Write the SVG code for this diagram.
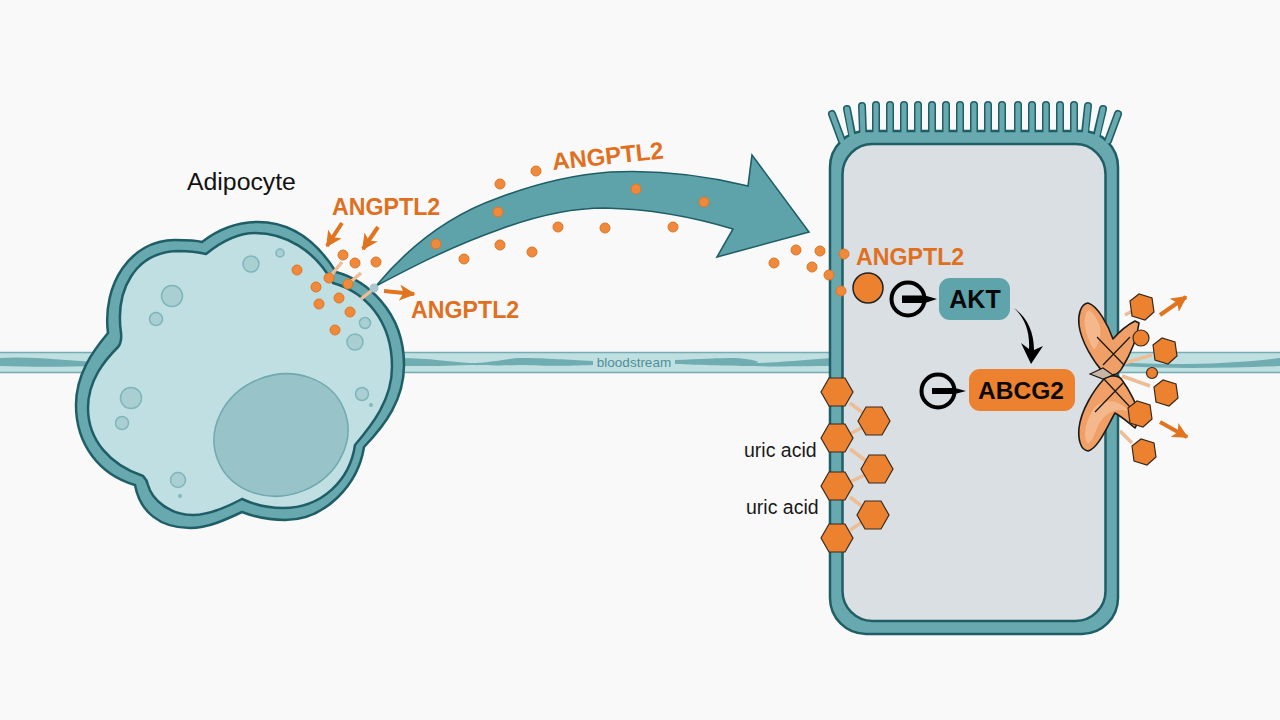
<svg xmlns="http://www.w3.org/2000/svg" width="1280" height="720" viewBox="0 0 1280 720">
<style>
  .sans { font-family: "Liberation Sans", Arial, sans-serif; }
  .lbl { font-family: "Liberation Sans", Arial, sans-serif; font-weight: 700; font-size: 23.200px; fill: #e0701f; }
  .uric { font-family: "Liberation Sans", Arial, sans-serif; font-size: 19.500px; fill: #1a1a1a; }
  .tag { font-family: "Liberation Sans", Arial, sans-serif; font-weight: 700; fill: #0a0a0a; text-anchor: middle; }
  .mem { fill: #68a9af; stroke: #1f5e66; stroke-width: 2.500; }
  .ves { fill: #a9cfd3; stroke: #7fb6bb; stroke-width: 1.500; }
  .dot { fill: #f08a3a; stroke: #d8772c; stroke-width: 1; }
  .hex { fill: #ec8130; stroke: #3a2a1c; stroke-width: 1.200; }
  .link { stroke: #eebd96; stroke-width: 3.500; fill: none; }
  .arr { stroke: #e0741f; stroke-width: 4; fill: none; marker-end: url(#oh); }
  .tr { fill: #f0a066; stroke: #1f1a16; stroke-width: 1.600; stroke-linejoin: round; }
  .trh { fill: #f5b88c; }
  .x { stroke: #1f1a16; stroke-width: 1.300; fill: none; }
  .wave { fill: #6fadb2; }
</style>
<defs>
  <marker id="oh" viewBox="0 0 10 10" refX="9" refY="5" markerWidth="16" markerHeight="16" markerUnits="userSpaceOnUse" orient="auto">
    <path d="M0 0 L10 5 L0 10 L2.500 5 Z" fill="#e0741f"/>
  </marker>
  <polygon id="hf" points="-16,0 -8,-14 8,-14 16,0 8,14 -8,14"/>
  <polygon id="hp" points="-12,-6 -3,-13 10,-9 12,5 3,13 -10,9"/>
</defs>
<rect width="1280" height="720" fill="#f9f9f9"/>

<!-- plasma stream running behind both cells -->
<g id="bloodstream">
  <rect x="0" y="352.500" width="1280" height="20" fill="#bfdfe1"/>
  <path d="M0 352.500H1280M0 372.500H1280" stroke="#76adb2" stroke-width="1.500"/>
  <path class="wave" d="M0 358 C30 356 60 360 100 362 L100 366 C60 367 30 367 0 366 Z"/>
  <path class="wave" d="M400 358 C430 358 450 362 470 363 C490 363 510 358 520 358 C550 358 565 360 593 361 L593 365 C565 366 550 366 520 365 C500 366 480 365 470 365 C450 366 430 366 400 366 Z"/>
  <path class="wave" d="M675 360 C700 359 720 358 735 358 C750 359 765 362 755 363 C775 363 800 360 832 358 L832 366 C800 366 775 367 755 366 C735 366 700 365 675 364 Z"/>
  <path class="wave" d="M1118 362 C1170 366 1230 364 1280 358 L1280 366 C1230 368 1170 369 1118 366 Z"/>
  <text x="634" y="367" class="sans" font-size="13.500" fill="#4f8f96" text-anchor="middle">bloodstream</text>
</g>

<g id="adipocyte">
  <path class="mem" d="M202 242 C220 228 240 222 258 222 C290 222 316 240 336 272 C365 280 404 310 404 365 C404 400 385 425 364 447 C358 485 325 520 285 520 C270 520 255 517 242 512 C225 520 208 528 190 528 C160 528 140 512 135 485 C100 475 76 445 76 405 C76 375 92 352 108 333 C102 285 130 240 175 240 C185 240 195 240 202 242 Z"/>
  <path d="M206 254 C222 241 238 233 255 233 C285 233 315 250 333 283 C365 292 392 320 392 367 C392 400 372 425 355 445 C350 480 322 508 283 508 C268 508 255 505 242 499 C225 508 208 515 193 515 C170 515 152 500 148 485 Q147 480 143 476 C110 465 88 440 88 408 C88 380 105 360 118 347 Q122 342 121 333 C115 290 135 252 178 251 C190 251 198 252 206 254 Z" fill="#bfdfe2" stroke="#1f5e66" stroke-width="2.500"/>
  <ellipse cx="281" cy="435" rx="68" ry="60" transform="rotate(-22 281 435)" fill="#97c3c9" stroke="#6fa9ae" stroke-width="1.500"/>
  <circle class="ves" cx="280" cy="253" r="4"/>
  <circle class="ves" cx="251" cy="264" r="8"/>
  <circle class="ves" cx="172" cy="296" r="10.500"/>
  <circle class="ves" cx="156" cy="319" r="6.500"/>
  <circle class="ves" cx="365" cy="323" r="5.500"/>
  <circle class="ves" cx="355" cy="342" r="8"/>
  <circle class="ves" cx="362" cy="394" r="6.500"/>
  <circle class="ves" cx="371" cy="405" r="1.200"/>
  <circle class="ves" cx="131" cy="398" r="10.500"/>
  <circle class="ves" cx="122" cy="423" r="6.500"/>
  <circle class="ves" cx="178" cy="480" r="7.500"/>
  <circle class="ves" cx="180" cy="496" r="1.200"/>
  <text x="187" y="190" class="sans" font-size="24.800" fill="#111">Adipocyte</text>
</g>

<!-- large secretion arrow and the small flow arrows -->
<g id="connectors">
  <path d="M376 286 C410 245 450 215 498 198 C535 184 570 175 610 172 C650 170 700 174 748 186 L752 155 L809 232 L717 257 L733 229 C690 216 650 209 605 208 C570 208 530 218 498 230 C450 247 410 268 376 286 Z" fill="#5fa3aa" stroke="#1f5e66" stroke-width="1.600" stroke-linejoin="miter"/>
  <path class="link" d="M329 278L342 262M348 284L361 273M361 299L371 291" stroke-width="2.500"/>
  <path class="arr" d="M342 223L327 246"/>
  <path class="arr" d="M378 227L363 249"/>
  <path class="arr" d="M384 291L414 294"/>
  <path class="arr" d="M1160 315L1186 297"/>
  <path class="arr" d="M1160 422L1187 437"/>
</g>

<g id="cell">
  <path d="M832 114L842 141M847 109L852 134M862 106L863 133M876 105V134M890 105V134M904 105V134M918 105V134M932 105V134M946 105V134M960 105V134M974 105V134M988 105V134M1002 105V134M1018 105V134M1032 105V134M1046 105V134M1060 105V134M1074 105V134M1088 106L1085 133M1103 109L1097 134M1118 114L1108 141" stroke="#1f5e66" stroke-width="8" stroke-linecap="round" fill="none"/>
  <rect class="mem" x="830" y="131" width="288" height="503" rx="36"/>
  <path d="M832 114L842 141M847 109L852 136M862 106L863 136M876 105V136M890 105V136M904 105V136M918 105V136M932 105V136M946 105V136M960 105V136M974 105V136M988 105V136M1002 105V136M1018 105V136M1032 105V136M1046 105V136M1060 105V136M1074 105V136M1088 106L1085 136M1103 109L1097 136M1118 114L1108 141" stroke="#68a9af" stroke-width="5" stroke-linecap="round" fill="none"/>
  <rect x="842.500" y="144" width="263" height="477" rx="30" fill="#d9dfe2" stroke="#1f5e66" stroke-width="2.500"/>
</g>

<g id="angptl2-dots">
  <circle class="dot" cx="500" cy="184" r="5"/><circle class="dot" cx="536" cy="171" r="5"/>
  <circle class="dot" cx="636" cy="189" r="5"/><circle class="dot" cx="704" cy="202" r="5"/>
  <circle class="dot" cx="498" cy="212" r="5"/><circle class="dot" cx="436" cy="244" r="5"/>
  <circle class="dot" cx="500" cy="245" r="5"/><circle class="dot" cx="464" cy="259" r="5"/>
  <circle class="dot" cx="532" cy="252" r="5"/><circle class="dot" cx="558" cy="227" r="5"/>
  <circle class="dot" cx="605" cy="228" r="5"/><circle class="dot" cx="673" cy="227" r="5"/>
  <circle class="dot" cx="774" cy="263" r="5"/><circle class="dot" cx="796" cy="250" r="5"/>
  <circle class="dot" cx="820" cy="251" r="5"/><circle class="dot" cx="844" cy="254" r="5"/>
  <circle class="dot" cx="812" cy="267" r="5"/><circle class="dot" cx="829" cy="275" r="5"/>
  <circle class="dot" cx="841" cy="291" r="5"/>
  <circle class="dot" cx="343" cy="255" r="5"/><circle class="dot" cx="355" cy="263" r="5"/>
  <circle class="dot" cx="376" cy="262" r="5"/><circle class="dot" cx="297" cy="270" r="5"/>
  <circle class="dot" cx="329" cy="278" r="5"/><circle class="dot" cx="348" cy="284" r="5"/>
  <circle class="dot" cx="316" cy="287" r="5"/><circle class="dot" cx="339" cy="298" r="5"/>
  <circle class="dot" cx="319" cy="304" r="5"/><circle class="dot" cx="350" cy="312" r="5"/>
  <circle class="dot" cx="335" cy="330" r="5"/>
  <circle cx="374" cy="288" r="4.500" fill="#a9c7cc"/>
</g>

<text class="lbl" x="332" y="215">ANGPTL2</text>
<text class="lbl" x="411" y="318">ANGPTL2</text>
<text class="lbl" x="856" y="265">ANGPTL2</text>
<text class="lbl" transform="translate(553 170) rotate(-6)" style="font-size:24px">ANGPTL2</text>

<!-- urate exchanger chain on the basal membrane -->
<g id="uric-acid">
  <path class="link" d="M850 403L874 421L850 434M850 449L877 469L850 482M850 497L873 515L850 530"/>
  <use href="#hf" class="hex" x="837" y="392"/>
  <use href="#hf" class="hex" x="837" y="438"/>
  <use href="#hf" class="hex" x="837" y="486"/>
  <use href="#hf" class="hex" x="837" y="538"/>
  <use href="#hf" class="hex" x="874" y="421"/>
  <use href="#hf" class="hex" x="877" y="469"/>
  <use href="#hf" class="hex" x="873" y="515"/>
  <text class="uric" x="744" y="457">uric acid</text>
  <text class="uric" x="746" y="514">uric acid</text>
</g>

<g id="receptor">
  <circle cx="868" cy="288" r="15" fill="#ec8130" stroke="#222" stroke-width="1.500"/>
</g>

<g id="akt">
  <circle cx="908" cy="299" r="16.500" fill="none" stroke="#000" stroke-width="4"/>
  <path d="M902 295.500L925 295.500L937 299L925 303L902 303Z" fill="#000"/>
  <rect x="939" y="278" width="71" height="42" rx="11" fill="#5fa3ab"/>
  <text class="tag" x="975" y="308" font-size="25">AKT</text>
</g>

<g id="abcg2">
  <circle cx="938" cy="391" r="16.500" fill="none" stroke="#000" stroke-width="4"/>
  <path d="M932 388L955 388L966 391L955 394L932 394Z" fill="#000"/>
  <rect x="969" y="369" width="106" height="42" rx="11" fill="#ec8130"/>
  <text class="tag" x="1021" y="399" font-size="24.500">ABCG2</text>
</g>

<path id="akt-to-abcg2" d="M1014 308 C1027 317 1034 332 1034 350 L1043 346 L1031 364 L1021 343 L1029 349 C1030 332 1025 318 1014 308 Z" fill="#000"/>

<g id="transporter">
  <path class="link" d="M1125 315L1136 309M1118 365L1152 355M1122 376L1150 386M1120 431L1132 443" stroke-width="2.500"/>
  <path class="tr" d="M1088 303 C1080 304 1078 316 1079 325 C1081 342 1094 362 1103 372 C1108 377 1118 376 1122 368 C1130 355 1137 340 1139 323 L1135 321 C1127 325 1120 331 1113 339 C1108 325 1098 306 1088 303 Z"/>
  <path class="tr" d="M1088 451 C1080 450 1078 438 1079 428 C1081 410 1094 390 1103 380 C1108 375 1118 374 1122 380 C1130 391 1137 405 1138 413 C1138 420 1137 425 1135 428 C1128 422 1122 417 1115 413 C1108 425 1098 449 1088 451 Z"/>
  <path class="trh" d="M1088 310 C1082 318 1084 333 1094 350 C1100 342 1102 332 1099 324 C1096 317 1092 311 1088 310 Z"/>
  <path class="trh" d="M1088 444 C1082 436 1086 421 1094 408 C1104 399 1117 398 1130 412 C1115 406 1103 414 1097 428 C1094 436 1092 441 1088 444 Z"/>
  <path class="x" d="M1097 337L1124 365M1130 337L1103 365M1103 378L1130 407M1123 383L1095 412"/>
  <path d="M1090 374L1103 368L1113 375L1103 379Z" fill="#c9b5a5" stroke="#1f1a16" stroke-width="1.200"/>
  <use href="#hp" class="hex" x="1142" y="307"/>
  <use href="#hp" class="hex" x="1165" y="351"/>
  <use href="#hp" class="hex" x="1166" y="393"/>
  <use href="#hp" class="hex" x="1140" y="414"/>
  <use href="#hp" class="hex" x="1144" y="452"/>
  <circle class="hex" cx="1141" cy="338" r="8"/>
  <circle class="hex" cx="1152" cy="373" r="5.500"/>
</g>
</svg>
